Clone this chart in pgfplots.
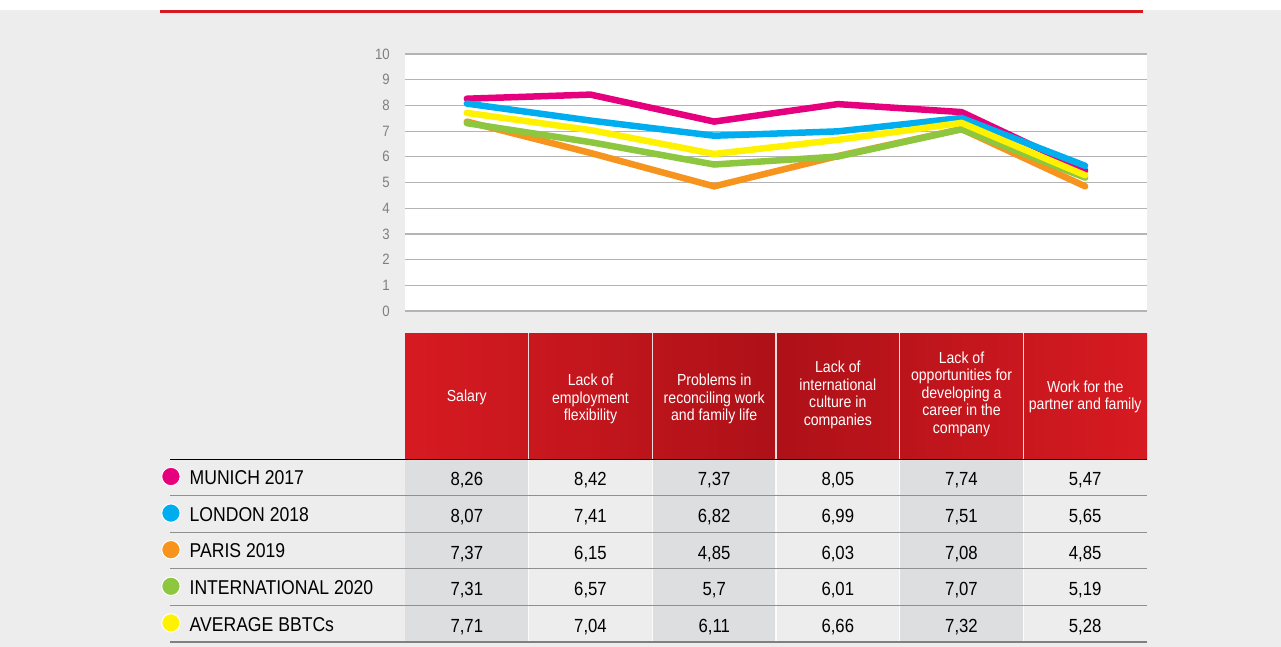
\documentclass[border=0pt]{standalone}
\usepackage{pgfplots}
\pgfplotsset{compat=1.18}
\usepackage{fontspec}
\setmainfont{Liberation Sans}[FakeStretch=0.88]

\definecolor{bg}{HTML}{EDEDED}
\definecolor{munich}{HTML}{E6007E}
\definecolor{london}{HTML}{00AEEF}
\definecolor{paris}{HTML}{F7941D}
\definecolor{intl}{HTML}{8DC63F}
\definecolor{avg}{HTML}{FFF200}
\definecolor{hdrred}{HTML}{D71A21}
\definecolor{hdrdark}{HTML}{AE1118}
\definecolor{colshade}{HTML}{DDDEE0}
\definecolor{gridgray}{HTML}{B4B4B4}
\definecolor{ticktext}{HTML}{7F7F7F}

% one table row: baseline y, then six values
\newcommand\trow[7]{%
  \node at (466.8pt,-#1pt) {#2};
  \node at (590.5pt,-#1pt) {#3};
  \node at (714.2pt,-#1pt) {#4};
  \node at (837.8pt,-#1pt) {#5};
  \node at (961.5pt,-#1pt) {#6};
  \node at (1085.2pt,-#1pt) {#7};
}

\begin{document}
\begin{tikzpicture}
% page background
\fill[bg] (0pt,0pt) rectangle (1281pt,-647pt);
\fill[white] (0pt,0pt) rectangle (1281pt,-10pt);
\draw[hdrred, line width=3pt] (160pt,-11.5pt) -- (1143pt,-11.5pt);

\begin{axis}[
  at={(405pt,-311pt)}, anchor=south west,
  scale only axis, width=742pt, height=257pt,
  xmin=-0.5, xmax=5.5, ymin=0, ymax=10,
  axis background/.style={fill=white},
  axis line style={draw=none},
  xtick=\empty,
  ytick={0,1,...,10},
  ymajorgrids,
  major grid style={gridgray, line width=1.2pt},
  major tick length=0pt,
  /pgf/number format/assume math mode=true,
  yticklabel style={text=ticktext, font=\fontsize{15}{15}\selectfont, inner sep=0pt, xshift=-15pt},
  legend style={at={(axis description cs:-0.3288,-0.570)}, anchor=north west,
    draw=none, fill=none, inner sep=0pt, row sep=0pt,
    font=\fontsize{20}{20}\selectfont,
    nodes={inner sep=0pt, text height=27pt, text depth=9.6pt},
    /tikz/every odd column/.append style={column sep=9pt}},
  legend cell align=left,
  legend image code/.code={\filldraw[draw=white, line width=1pt] (10pt,-0.5pt) circle (9.2pt);},
  every axis plot/.append style={line width=6.5pt, line cap=round},
]
\addplot[munich] coordinates {(0,8.26) (1,8.42) (2,7.37) (3,8.05) (4,7.74) (5,5.47)};
\addlegendentry{MUNICH 2017}
\addplot[london] coordinates {(0,8.07) (1,7.41) (2,6.82) (3,6.99) (4,7.51) (5,5.65)};
\addlegendentry{LONDON 2018}
\addplot[paris] coordinates {(0,7.37) (1,6.15) (2,4.85) (3,6.03) (4,7.08) (5,4.85)};
\addlegendentry{PARIS 2019}
\addplot[intl] coordinates {(0,7.31) (1,6.57) (2,5.7) (3,6.01) (4,7.07) (5,5.19)};
\addlegendentry{INTERNATIONAL 2020}
\addplot[avg] coordinates {(0,7.71) (1,7.04) (2,6.11) (3,6.66) (4,7.32) (5,5.28)};
\addlegendentry{AVERAGE BBTCs}
\end{axis}

% table header
\shade[left color=hdrred, right color=hdrred, middle color=hdrdark] (405pt,-333pt) rectangle (1147pt,-459pt);
% shaded columns
\fill[colshade] (405pt,-459pt) rectangle (528.7pt,-642pt);
\fill[colshade] (652.3pt,-459pt) rectangle (776pt,-642pt);
\fill[colshade] (899.7pt,-459pt) rectangle (1023.3pt,-642pt);
\foreach \x in {528.7,652.3,776,899.7,1023.3}
  \draw[white, opacity=0.85, line width=1.3pt] (\x pt,-333pt) -- (\x pt,-642pt);
% row rules
\draw[black, line width=1pt] (170pt,-459pt) -- (1147pt,-459pt);
\foreach \y in {495.6,532.2,568.8,605.4}
  \draw[gridgray!80!black, line width=1.1pt] (170pt,-\y pt) -- (1147pt,-\y pt);
\draw[gray, line width=2pt] (170pt,-642pt) -- (1147pt,-642pt);

% header text
\begin{scope}[every node/.style={text=white, align=center, font=\fontsize{16}{17.5}\selectfont, inner sep=0pt}]
\node at (466.8pt,-397pt) {Salary};
\node at (590.5pt,-399pt) {Lack of\\employment\\flexibility};
\node at (714.2pt,-399pt) {Problems in\\reconciling work\\and family life};
\node at (837.8pt,-395pt) {Lack of\\international\\culture in\\companies};
\node at (961.5pt,-394pt) {Lack of\\opportunities for\\developing a\\career in the\\company};
\node at (1085.2pt,-397pt) {Work for the\\partner and family};
\end{scope}

% table values
\begin{scope}[every node/.style={anchor=base, font=\fontsize{19}{19}\selectfont, inner sep=0pt}]
\trow{485.8}{8,26}{8,42}{7,37}{8,05}{7,74}{5,47}
\trow{522.4}{8,07}{7,41}{6,82}{6,99}{7,51}{5,65}
\trow{559.0}{7,37}{6,15}{4,85}{6,03}{7,08}{4,85}
\trow{595.6}{7,31}{6,57}{5,7}{6,01}{7,07}{5,19}
\trow{632.2}{7,71}{7,04}{6,11}{6,66}{7,32}{5,28}
\end{scope}
\end{tikzpicture}
\end{document}
